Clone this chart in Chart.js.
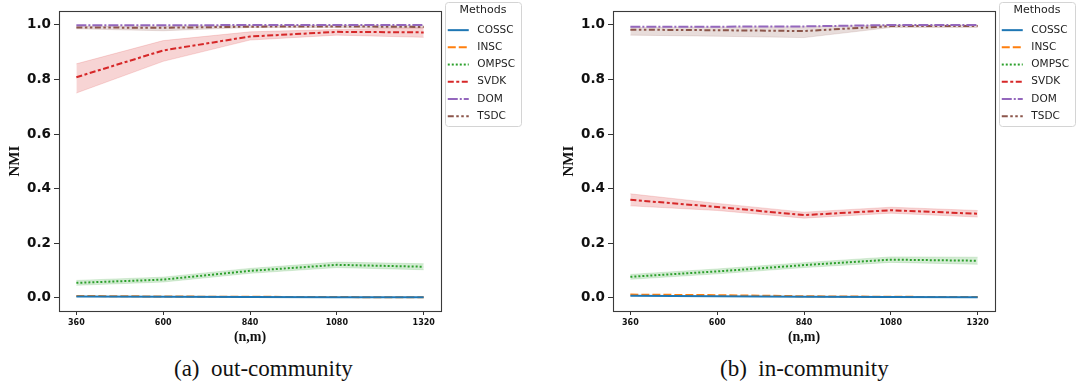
<!DOCTYPE html>
<html>
<head>
<meta charset="utf-8">
<script src="https://cdn.jsdelivr.net/npm/chart.js@4.4.1/dist/chart.umd.min.js"></script>
<style>
  html, body { margin: 0; padding: 0; background: #fff; overflow: hidden; width: 1078px; height: 389px; }
  canvas { position: absolute; top: 0; }
  #outChart { left: 0; }
  #inChart { left: 554px; }
  .caption { position: absolute; top: 356px; font-family: "Liberation Serif", serif; font-size: 23px; color: #111; white-space: pre; }
</style>
</head>
<body>
<canvas id="outChart" width="530" height="350"></canvas>
<canvas id="inChart" width="530" height="350"></canvas>
<div class="caption" style="left:174px">(a)  out-community</div>
<div class="caption" style="left:720px">(b)  in-community</div>
<script>
// x positions (n,m) and y tick values
const nm = [360, 600, 840, 1080, 1320]
const yTicks = [0, 0.2, 0.4, 0.6, 0.8, 1.0]
const methods = ["COSSC", "INSC", "OMPSC", "SVDK", "DOM", "TSDC"]

// (a) out-community, mean NMI per method
const cosscOut = [0.005, 0.004, 0.003, 0.002, 0.002]
const inscOut = [0.007, 0.005, 0.004, 0.003, 0.002]
const ompscOut = [0.055, 0.067, 0.099, 0.121, 0.114]
const svdkOut = [0.808, 0.906, 0.957, 0.974, 0.972]
const domOut = [0.998, 0.998, 0.999, 0.999, 0.999]
const tsdcOut = [0.990, 0.989, 0.993, 0.994, 0.992]
// (a) error bands
const ompscOutLo = [0.046, 0.058, 0.090, 0.111, 0.103]
const ompscOutHi = [0.064, 0.076, 0.108, 0.131, 0.125]
const svdkOutLo = [0.750, 0.866, 0.944, 0.962, 0.954]
const svdkOutHi = [0.857, 0.942, 0.974, 0.983, 0.989]
const tsdcOutLo = [0.985, 0.978, 0.990, 0.990, 0.988]
const tsdcOutHi = [0.995, 0.995, 0.997, 0.998, 0.997]

// (b) in-community, mean NMI per method
const cosscIn = [0.008, 0.006, 0.004, 0.003, 0.002]
const inscIn = [0.012, 0.010, 0.006, 0.004, 0.003]
const ompscIn = [0.077, 0.097, 0.120, 0.140, 0.136]
const svdkIn = [0.359, 0.333, 0.303, 0.321, 0.308]
const domIn = [0.993, 0.993, 0.994, 0.999, 0.999]
const tsdcIn = [0.982, 0.980, 0.977, 0.995, 0.995]
// (b) error bands
const ompscInLo = [0.068, 0.088, 0.111, 0.130, 0.123]
const ompscInHi = [0.086, 0.106, 0.129, 0.150, 0.149]
const svdkInLo = [0.337, 0.320, 0.292, 0.310, 0.296]
const svdkInHi = [0.381, 0.346, 0.314, 0.332, 0.320]
const tsdcInLo = [0.962, 0.958, 0.953, 0.990, 0.990]
const tsdcInHi = [0.990, 0.992, 0.993, 0.999, 0.999]

// styles (seaborn defaults)
const colors = ["#1f77b4", "#ff7f0e", "#2ca02c", "#d62728", "#9467bd", "#8c564b"]
const bandColors = ["rgba(31,119,180,0.2)", "rgba(255,127,14,0.2)", "rgba(44,160,44,0.2)",
  "rgba(214,39,40,0.2)", "rgba(148,103,189,0.2)", "rgba(140,86,75,0.2)"]
const dashes = [[], [8, 3], [2, 2], [6, 2.5, 3, 2.5], [10, 2, 2, 2], [6, 2.5, 2.5, 2.5, 2.5, 2.5]]

Chart.defaults.font.family = "DejaVu Sans"
Chart.defaults.color = "#111"

function points(vals) {
  return nm.map((x, j) => ({ x: x, y: vals[j] }))
}

function buildDatasets(lines, bands) {
  var sets = []
  lines.forEach((vals, i) => {
    sets.push({
      label: methods[i],
      data: points(vals),
      borderColor: colors[i],
      backgroundColor: colors[i],
      borderDash: dashes[i],
      borderWidth: 2,
      pointRadius: 0,
      fill: false,
      order: i + 1,
    })
  })
  bands.forEach((b) => {
    var i = b[0]
    var upperIndex = sets.length
    sets.push({
      data: points(b[2]),
      borderColor: bandColors[i],
      borderWidth: 0.8,
      pointRadius: 0,
      fill: false,
      order: 20,
    })
    sets.push({
      data: points(b[1]),
      borderColor: bandColors[i],
      backgroundColor: bandColors[i],
      borderWidth: 0.8,
      pointRadius: 0,
      fill: upperIndex,
      order: 20,
    })
  })
  return sets
}

const framePlugin = {
  id: "frames",
  afterDraw(chart) {
    const ctx = chart.ctx
    const a = chart.chartArea
    ctx.save()
    ctx.setLineDash([])
    ctx.strokeStyle = "#3a3a3a"
    ctx.lineWidth = 1.1
    ctx.strokeRect(Math.round(a.left) + 0.5, Math.round(a.top) + 0.5,
      Math.round(a.right - a.left), Math.round(a.bottom - a.top))

    // legend frame
    const hb = chart.legend.legendHitBoxes
    if (hb && hb.length) {
      var l = chart.legend.left + 4
      var r = Math.max(...hb.map((h) => h.left + h.width)) + 6
      var t = chart.legend.top
      var b = hb[hb.length - 1].top + hb[hb.length - 1].height + 5
      ctx.strokeStyle = "#d4d4d4"
      ctx.lineWidth = 1
      ctx.beginPath()
      ctx.roundRect(Math.round(l) + 0.5, Math.round(t) + 0.5, Math.round(r - l), Math.round(b - t), 3)
      ctx.stroke()
    }
    ctx.restore()
  },
}

function makeChart(id, lines, bands) {
  const ctx = document.getElementById(id).getContext("2d")
  return new Chart(ctx, {
    type: "line",
    data: { datasets: buildDatasets(lines, bands) },
    plugins: [framePlugin],
    options: {
      responsive: false,
      animation: false,
      layout: {
        padding: { left: 0, right: 5, top: 2, bottom: 0 },
      },
      elements: { line: { tension: 0 } },
      plugins: {
        tooltip: { enabled: false },
        legend: {
          position: "right",
          align: "start",
          labels: {
            usePointStyle: true,
            pointStyle: "line",
            pointStyleWidth: 21,
            font: { size: 10.5 },
            color: "#222",
            padding: 6.7,
            filter: (item) => item.datasetIndex < methods.length,
            generateLabels: (chart) => {
              var items = Chart.defaults.plugins.legend.labels.generateLabels(chart)
              items.forEach((it) => {
                var ds = chart.data.datasets[it.datasetIndex]
                it.text = " " + it.text
                it.lineDash = ds.borderDash
                it.lineWidth = ds.borderWidth
                it.strokeStyle = ds.borderColor
              })
              return items
            },
          },
          title: {
            display: true,
            text: "Methods",
            font: { size: 11 },
            color: "#222",
            padding: { top: 3, bottom: 0 },
          },
        },
      },
      scales: {
        x: {
          type: "linear",
          min: 312,
          max: 1368,
          afterBuildTicks: (s) => {
            s.ticks = nm.map((v) => ({ value: v }))
          },
          afterFit: (s) => {
            s.height = 39
          },
          ticks: {
            font: { size: 8, weight: "bold" },
            color: "#111",
            padding: 3,
            maxRotation: 0,
            autoSkip: false,
            callback: (v) => v,
          },
          grid: { drawOnChartArea: false, tickLength: 4, color: "#333" },
          border: { display: false },
          title: {
            display: true,
            text: "(n,m)",
            font: { family: "Liberation Serif", size: 14, weight: "bold" },
            color: "#111",
            padding: { top: 4, bottom: 4 },
          },
        },
        y: {
          min: -0.048,
          max: 1.05,
          afterBuildTicks: (s) => {
            s.ticks = yTicks.map((v) => ({ value: v }))
          },
          afterFit: (s) => {
            s.width = 59
          },
          ticks: {
            font: { size: 13.5, weight: "bold" },
            color: "#111",
            padding: 3,
            callback: (v) => v.toFixed(1),
          },
          grid: { drawOnChartArea: false, tickLength: 5, color: "#333" },
          border: { display: false },
          title: {
            display: true,
            text: "NMI",
            font: { family: "Liberation Serif", size: 15, weight: "bold" },
            color: "#111",
            padding: { top: 6, bottom: 0 },
          },
        },
      },
    },
  })
}

var outChart = makeChart("outChart",
  [cosscOut, inscOut, ompscOut, svdkOut, domOut, tsdcOut],
  [[2, ompscOutLo, ompscOutHi], [3, svdkOutLo, svdkOutHi], [5, tsdcOutLo, tsdcOutHi]])

var inChart = makeChart("inChart",
  [cosscIn, inscIn, ompscIn, svdkIn, domIn, tsdcIn],
  [[2, ompscInLo, ompscInHi], [3, svdkInLo, svdkInHi], [5, tsdcInLo, tsdcInHi]])
</script>
</body>
</html>
